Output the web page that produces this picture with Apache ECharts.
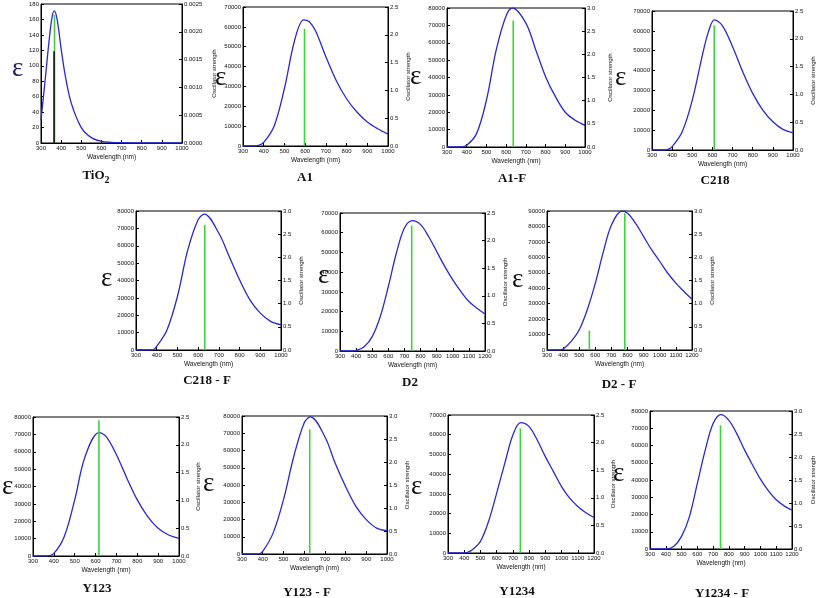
<!DOCTYPE html>
<html><head><meta charset="utf-8">
<script src="https://cdn.jsdelivr.net/npm/echarts@6/dist/echarts.min.js"></script>
<style>html,body{margin:0;padding:0;background:#fff}#c{width:817px;height:598px}</style>
</head><body><div id="c"></div>
<script>
// ---- data (wavelength nm, epsilon) ----
const TiO2_curve = [[300,30],[320,80],[340,132],[355,163],[366,171],[380,160],[400,122],[420,88],[450,52],[500,20],[550,7],[600,2.2],[650,0.8],[700,0.3],[800,0],[900,0],[1000,0]];
const TiO2_sticks = [[367,0.0023]];
const TiO2_sticksBlack = [[365,0.00165]];

const A1_curve = [[300,0],[350,0],[375,300],[400,1800],[450,10000],[500,29000],[550,53500],[593,63500],[620,62600],[650,58000],[700,45000],[750,33000],[800,23800],[850,17100],[900,12100],[950,8700],[1000,6000]];
const A1_sticks = [[505,0.03],[535,0.02],[597,2.11]];

const A1F_curve = [[300,0],[370,0],[400,1000],[450,7700],[500,27000],[550,56000],[600,75500],[632,80000],[700,71300],[750,56000],[800,40500],[850,29000],[900,20000],[950,15400],[1000,12500]];
const A1F_sticks = [[636,2.73]];

const C218_curve = [[300,0],[360,0],[380,300],[400,1700],[450,9200],[500,25100],[550,47700],[580,59500],[610,65500],[650,62500],[700,52000],[750,39500],[800,28500],[850,20100],[900,14200],[950,10400],[1000,8600]];
const C218_sticks = [[609,2.24]];

const C218F_curve = [[300,0],[380,0],[400,2100],[450,11700],[500,30800],[550,57600],[600,75000],[630,78200],[700,67200],[750,53800],[800,40400],[850,28900],[900,21200],[950,16500],[1000,14500]];
const C218F_sticks = [[632,2.70]];

const D2_curve = [[300,0],[380,0],[400,200],[450,2200],[500,7300],[550,17500],[600,32700],[650,49700],[700,62400],[750,66100],[800,64100],[850,58100],[900,50500],[950,42900],[1000,36100],[1050,30200],[1100,25100],[1150,21700],[1200,18800]];
const D2_sticks = [[745,2.27]];

const D2F_curve = [[300,0],[380,0],[400,600],[450,5600],[500,13100],[550,26100],[600,43300],[650,63700],[700,81000],[765,90000],[800,88500],[850,82000],[900,73400],[950,64800],[1000,57300],[1050,49700],[1100,43300],[1150,37900],[1200,32900]];
const D2F_sticks = [[563,0.42],[783,2.95]];

const Y123_curve = [[300,0],[360,0],[400,1500],[450,11200],[500,32300],[550,57300],[617,71000],[650,68800],[700,58300],[750,44800],[800,32300],[850,22700],[900,16000],[950,12100],[1000,10200]];
const Y123_sticks = [[505,0.01],[616,2.44]];

const Y123F_curve = [[300,0],[380,0],[400,1500],[450,12100],[500,31400],[550,56500],[600,76000],[630,79500],[700,68000],[750,52600],[800,39100],[850,27600],[900,19900],[950,15000],[1000,13500]];
const Y123F_sticks = [[627,2.71]];

const Y1234_curve = [[300,0],[400,0],[420,300],[450,1700],[500,5900],[550,16000],[600,30400],[650,45500],[700,59900],[748,66100],[800,64100],[850,57300],[900,48900],[950,41300],[1000,33700],[1050,27800],[1100,23600],[1150,20400],[1200,18000]];
const Y1234_sticks = [[746,2.26]];

const Y1234F_curve = [[300,0],[400,0],[450,1500],[500,7300],[550,18800],[600,38000],[650,57300],[700,72700],[750,77900],[800,74600],[850,66900],[900,57300],[950,48700],[1000,40500],[1050,33800],[1100,28500],[1150,25000],[1200,22500]];
const Y1234F_sticks = [[747,2.69]];

// ---- layout ----
const panels = [
  {title:'TiO', sub:'2', curve:TiO2_curve, sticks:TiO2_sticks, black:TiO2_sticksBlack, g:[41,4,141,139], xmax:1000, ymax:180, yint:20, fmax:0.0025, fint:0.0005, fdec:4, eps:[22,72], tx:96, ty:176, rgap:29},
  {title:'A1', curve:A1_curve, sticks:A1_sticks, g:[243,7,145,139], xmax:1000, ymax:70000, yint:10000, fmax:2.5, fint:0.5, fdec:1, eps:[225,81], tx:305, ty:178, rgap:17},
  {title:'A1-F', curve:A1F_curve, sticks:A1F_sticks, g:[447,8,138,139], xmax:1000, ymax:80000, yint:10000, fmax:3.0, fint:0.5, fdec:1, eps:[420,80], tx:512, ty:179, rgap:22},
  {title:'C218', curve:C218_curve, sticks:C218_sticks, g:[652,11,145,139], xmax:1000, ymax:70000, yint:10000, fmax:2.5, fint:0.5, fdec:1, eps:[625,81], tx:715, ty:181, rgap:17},
  {title:'C218 - F', curve:C218F_curve, sticks:C218F_sticks, g:[136,211,145,139], xmax:1000, ymax:80000, yint:10000, fmax:3.0, fint:0.5, fdec:1, eps:[111,282], tx:207, ty:381, rgap:17},
  {title:'D2', curve:D2_curve, sticks:D2_sticks, g:[340,213,145,138], xmax:1200, ymax:70000, yint:10000, fmax:2.5, fint:0.5, fdec:1, eps:[328,279], tx:410, ty:383, rgap:17},
  {title:'D2 - F', curve:D2F_curve, sticks:D2F_sticks, g:[547,211,145,139], xmax:1200, ymax:90000, yint:10000, fmax:3.0, fint:0.5, fdec:1, eps:[522,283], tx:619, ty:385, rgap:17},
  {title:'Y123', curve:Y123_curve, sticks:Y123_sticks, g:[33,417,146,139], xmax:1000, ymax:80000, yint:10000, fmax:2.5, fint:0.5, fdec:1, eps:[12,490], tx:97, ty:589, rgap:16},
  {title:'Y123 - F', curve:Y123F_curve, sticks:Y123F_sticks, g:[242,416,145,138], xmax:1000, ymax:80000, yint:10000, fmax:3.0, fint:0.5, fdec:1, eps:[213,487], tx:307, ty:593, rgap:17},
  {title:'Y1234', curve:Y1234_curve, sticks:Y1234_sticks, g:[448,415,146,138], xmax:1200, ymax:70000, yint:10000, fmax:2.5, fint:0.5, fdec:1, eps:[421,490], tx:517, ty:592, rgap:16},
  {title:'Y1234 - F', curve:Y1234F_curve, sticks:Y1234F_sticks, g:[650,411,146,138], xmax:1200, ymax:80000, yint:10000, fmax:3.0, fint:0.5, fdec:1, eps:[623,477], tx:722, ty:594, rgap:18}
];

const BLUE = '#2828d8', GREEN = '#3fd23f';
const tickFont = {fontFamily:'Liberation Sans', fontSize:6, color:'#111'};
const grid = [], xAxis = [], yAxis = [], series = [], graphic = [];

function stickRender(color){
  return function(params, api){
    const x = api.value(0), h = api.value(1);
    const p0 = api.coord([x, 0]), p1 = api.coord([x, h]);
    return {type:'line', shape:{x1:p0[0], y1:p0[1], x2:p1[0], y2:p1[1]}, style:{stroke:color, lineWidth:1.6}};
  };
}

panels.forEach((p, i) => {
  grid.push({left:p.g[0], top:p.g[1], width:p.g[2], height:p.g[3], show:true, borderColor:'#000', borderWidth:1, backgroundColor:'transparent'});
  xAxis.push({type:'value', gridIndex:i, min:300, max:p.xmax, interval:100,
    name:'Wavelength (nm)', nameLocation:'middle', nameGap:11,
    nameTextStyle:{fontFamily:'Liberation Sans', fontSize:6.5, color:'#111'},
    axisLine:{show:true, lineStyle:{color:'#000', width:1}},
    axisTick:{inside:true, length:3, lineStyle:{color:'#000'}},
    axisLabel:Object.assign({margin:2, showMinLabel:true, showMaxLabel:true, formatter:v => String(v)}, tickFont),
    splitLine:{show:false}});
  yAxis.push({type:'value', gridIndex:i, min:0, max:p.ymax, interval:p.yint, position:'left',
    axisLine:{show:true, lineStyle:{color:'#000', width:1}},
    axisTick:{inside:true, length:3, lineStyle:{color:'#000'}},
    axisLabel:Object.assign({margin:2, showMinLabel:true, showMaxLabel:true, formatter:v => String(v)}, tickFont),
    splitLine:{show:false}});
  yAxis.push({type:'value', gridIndex:i, min:0, max:p.fmax, interval:p.fint, position:'right',
    name:'Oscillator strength', nameLocation:'middle', nameGap:p.rgap, nameRotate:90,
    nameTextStyle:{fontFamily:'Liberation Sans', fontSize:6, color:'#111'},
    axisLine:{show:true, lineStyle:{color:'#000', width:1}},
    axisTick:{inside:true, length:3, lineStyle:{color:'#000'}},
    axisLabel:Object.assign({margin:2, showMinLabel:true, showMaxLabel:true, formatter:v => v.toFixed(p.fdec)}, tickFont),
    splitLine:{show:false}});
  series.push({type:'line', xAxisIndex:i, yAxisIndex:2*i, data:p.curve, smooth:0.35,
    showSymbol:false, lineStyle:{color:BLUE, width:1.3}, silent:true, z:3});
  series.push({type:'custom', xAxisIndex:i, yAxisIndex:2*i+1, data:p.sticks, encode:{x:0, y:1},
    renderItem:stickRender(GREEN), silent:true, z:4});
  if (p.black) series.push({type:'custom', xAxisIndex:i, yAxisIndex:2*i+1, data:p.black, encode:{x:0, y:1},
    renderItem:stickRender('#111'), silent:true, z:5});
  graphic.push({type:'text', left:p.eps[0]-10, top:p.eps[1]-17,
    style:{text:'ε', font:'27px "Liberation Serif"', fill: i===0 ? '#1c1c5a' : '#111'}});
  const ttext = p.sub ? '{m|' + p.title + '}{s|' + p.sub + '}' : '{m|' + p.title + '}';
  graphic.push({type:'text', x:p.tx, y:p.ty,
    style:{text:ttext, align:'center', verticalAlign:'middle',
      rich:{m:{font:'bold 13px "Liberation Serif"', fill:'#111'}, s:{font:'bold 10px "Liberation Serif"', fill:'#111', padding:[8,0,0,0]}}}});
});

const chart = echarts.init(document.getElementById('c'), null, {renderer:'canvas'});
chart.setOption({animation:false, backgroundColor:'#fff', grid, xAxis, yAxis, series, graphic});
</script></body></html>
